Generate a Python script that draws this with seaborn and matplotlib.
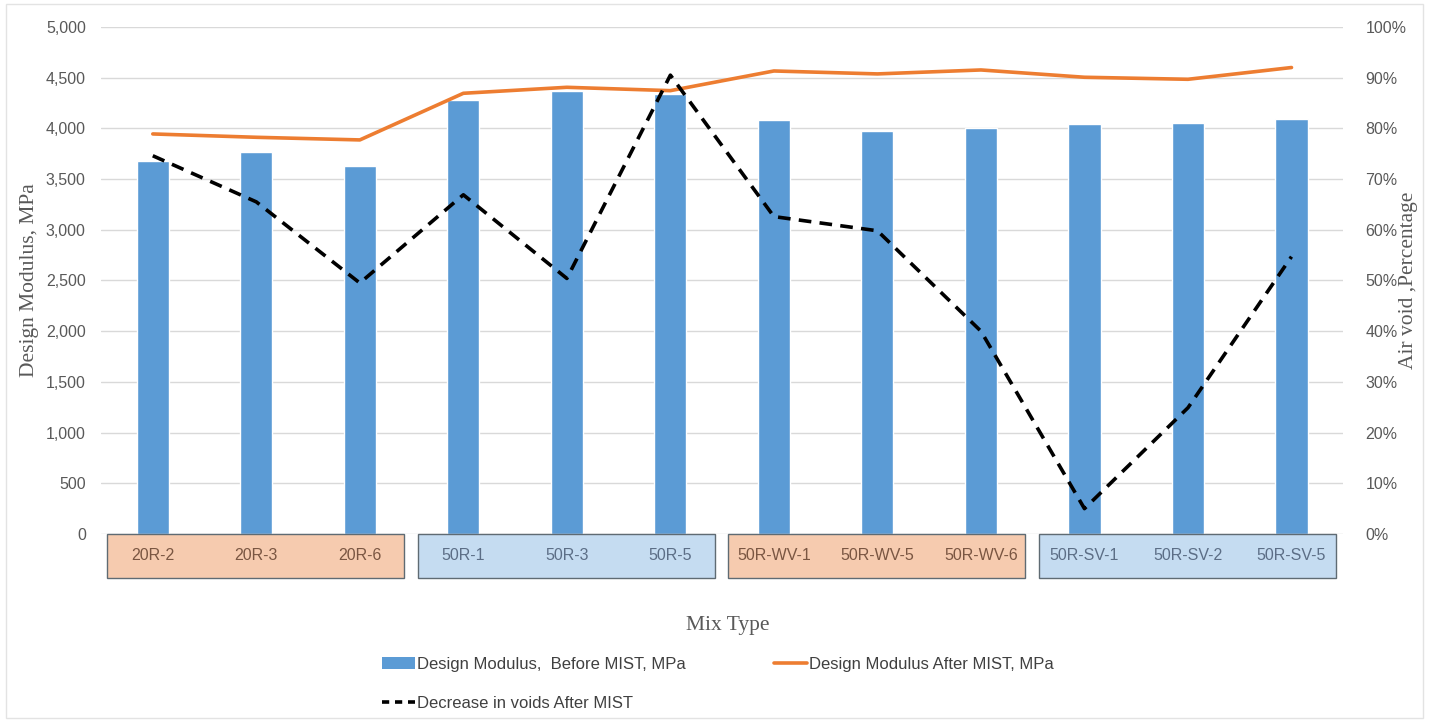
import matplotlib
matplotlib.use("Agg")
import matplotlib.pyplot as plt
import matplotlib.transforms as mtransforms
from matplotlib.patches import Rectangle, Patch
from matplotlib.lines import Line2D
import numpy as np
import pandas as pd
import seaborn as sns

# Mix designs and measured values
mixes = ["20R-2", "20R-3", "20R-6", "50R-1", "50R-3", "50R-5",
         "50R-WV-1", "50R-WV-5", "50R-WV-6", "50R-SV-1", "50R-SV-2", "50R-SV-5"]
modulus_before = [3680, 3770, 3630, 4280, 4370, 4335,
                  4080, 3975, 4000, 4040, 4055, 4090]
modulus_after = [3945, 3912, 3886, 4346, 4405, 4372,
                 4566, 4537, 4576, 4504, 4484, 4600]
void_decrease = [0.746, 0.655, 0.495, 0.669, 0.504, 0.905,
                 0.626, 0.598, 0.40, 0.05, 0.249, 0.547]
y_ticks = [0, 500, 1000, 1500, 2000, 2500, 3000, 3500, 4000, 4500, 5000]
pct_ticks = [0.0, 0.1, 0.2, 0.3, 0.4, 0.5, 0.6, 0.7, 0.8, 0.9, 1.0]
group_colors = ["#F6CBAF", "#C5DCF1", "#F6CBAF", "#C5DCF1"]
group_text = ["#7A5642", "#5C6E86", "#7A5642", "#5C6E86"]

df = pd.DataFrame({"mix": mixes, "before": modulus_before,
                   "after": modulus_after, "voids": void_decrease})
df["pos"] = np.arange(len(mixes))

sns.set_theme(style="white")
narrow = ["Liberation Sans Narrow", "Liberation Sans", "DejaVu Sans"]
serif = ["Liberation Serif", "DejaVu Serif"]
plt.rcParams["font.family"] = narrow

BAR = "#5B9BD5"
ORANGE = "#ED7D31"
GRID = "#D9D9D9"
TICK = "#595959"

fig = plt.figure(figsize=(14.29, 7.21), dpi=100)
ax = fig.add_axes([0.0707, 0.2594, 0.8693, 0.7032])

sns.barplot(data=df, x="mix", y="before", color=BAR, width=0.31,
            saturation=1, ax=ax, zorder=2)
sns.lineplot(data=df, x="pos", y="after", color=ORANGE, linewidth=2.6,
             ax=ax, zorder=3)

ax.set_ylim(0, 5000)
ax.set_xlim(-0.5, len(mixes) - 0.5)
ax.set_yticks(y_ticks)
ax.set_yticklabels([f"{v:,}" for v in y_ticks], color=TICK, fontsize=11.5)
ax.yaxis.grid(True, color=GRID, linewidth=1.0, zorder=0)
ax.set_axisbelow(True)
ax.tick_params(axis="y", length=0, pad=11)
ax.tick_params(axis="x", length=0, labelbottom=False)
for s in ax.spines.values():
    s.set_visible(False)
ax.set_xlabel("")
ax.set_ylabel("Design Modulus, MPa", family=serif, fontsize=15.5, color=TICK)
ax.yaxis.set_label_coords(-0.050, 0.5)

ax2 = ax.twinx()
sns.lineplot(data=df, x="pos", y="voids", color="black", linewidth=2.6,
             ax=ax2, zorder=4)
ax2.lines[0].set_dashes([3.5, 2.3])
ax2.set_ylim(0, 1)
ax2.set_yticks(pct_ticks)
ax2.set_yticklabels([f"{int(round(v * 100))}%" for v in pct_ticks],
                    color=TICK, fontsize=11.5)
ax2.tick_params(axis="y", length=0, pad=16)
for s in ax2.spines.values():
    s.set_visible(False)
ax2.set_xlabel("")
ax2.set_ylabel("Air void ,Percentage", family=serif, fontsize=15.5,
               color=TICK)
ax2.yaxis.set_label_coords(1.045, 0.5)

# Grouped category boxes under the axis
trans = mtransforms.blended_transform_factory(ax.transData, ax.transAxes)
for g in range(4):
    ax.add_patch(Rectangle((3 * g - 0.44, -0.087), 2.87, 0.087,
                           transform=trans, clip_on=False,
                           facecolor=group_colors[g], edgecolor="#5F6B73",
                           linewidth=1.0, zorder=5))
    for k in range(3):
        i = 3 * g + k
        ax.text(i, -0.043, mixes[i], transform=trans, ha="center",
                va="center", fontsize=11.5, color=group_text[g], zorder=6)

fig.text(0.5095, 0.132, "Mix Type", family=serif, fontsize=15.5,
         color=TICK, ha="center", va="center")

handles = [Patch(facecolor=BAR, edgecolor="none"),
           Line2D([], [], color="black", linewidth=2.6, dashes=[2.0, 1.6]),
           Line2D([], [], color=ORANGE, linewidth=2.6)]
labels = ["Design Modulus,  Before MIST, MPa",
          "Decrease in voids After MIST",
          "Design Modulus After MIST, MPa"]
fig.legend(handles, labels, ncol=2, loc="center left",
           bbox_to_anchor=(0.257, 0.051), frameon=False, fontsize=12,
           labelcolor="#404040", handlelength=1.95, handletextpad=0.15,
           columnspacing=5.3, labelspacing=1.45)

fig.add_artist(Rectangle((0.004, 0.004), 0.992, 0.99, transform=fig.transFigure,
                         fill=False, edgecolor="#E3E3E3", linewidth=1.0))

fig.savefig("out.png", dpi=100)
